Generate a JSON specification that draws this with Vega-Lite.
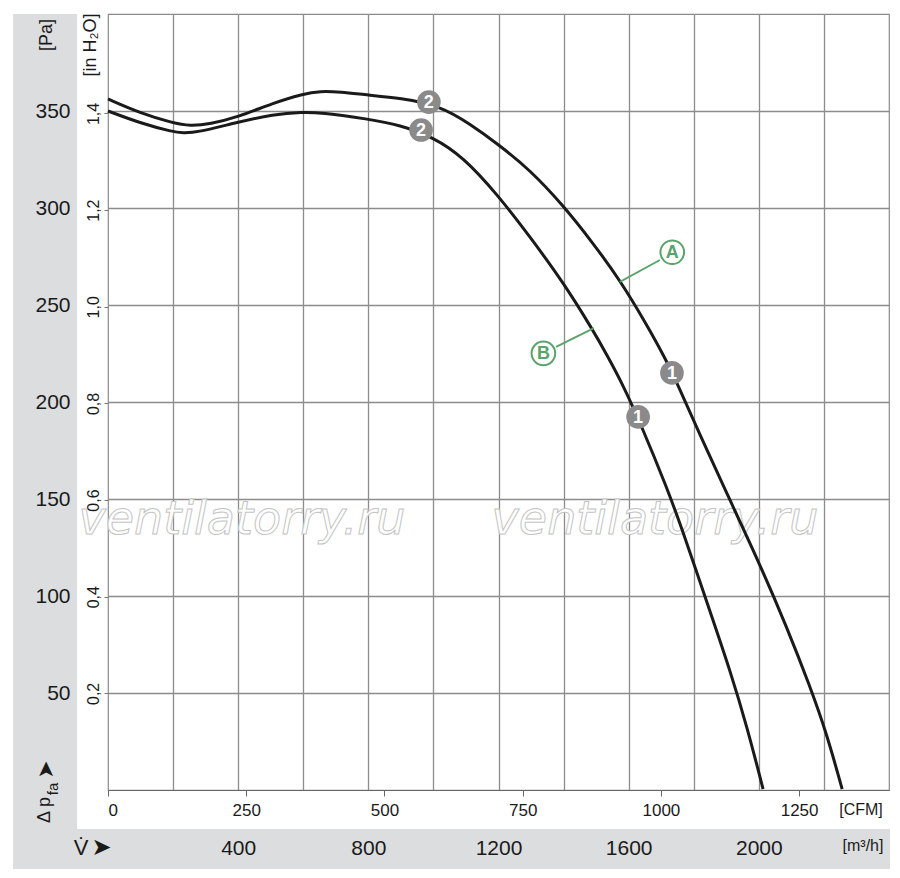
{
  "$schema": "https://vega.github.io/schema/vega-lite/v6.json",
  "width": 781,
  "height": 776,
  "autosize": "none",
  "padding": {"left": 108, "top": 14, "right": 11, "bottom": 88},
  "background": "white",
  "config": {
    "view": {"stroke": "#8a8a8a", "strokeWidth": 1.2},
    "font": "Liberation Sans, sans-serif"
  },
  "resolve": {"scale": {"x": "independent", "y": "independent"}},
  "layer": [
    {
      "data": {"values": [{"gm": 0, "gp": 0}]},
      "mark": {"type": "point", "opacity": 0},
      "encoding": {
        "x": {
          "field": "gm", "type": "quantitative",
          "scale": {"domain": [0, 2400], "nice": false, "zero": false},
          "axis": {
            "orient": "bottom", "title": null, "zindex": 0,
            "values": [200, 400, 600, 800, 1000, 1200, 1400, 1600, 1800, 2000, 2200],
            "grid": true, "gridColor": "#8c8c8c", "gridWidth": 1.3,
            "labels": false, "ticks": false, "domain": false
          }
        },
        "y": {
          "field": "gp", "type": "quantitative",
          "scale": {"domain": [0, 400], "nice": false, "zero": false},
          "axis": {
            "orient": "left", "title": null, "zindex": 0,
            "values": [50, 100, 150, 200, 250, 300, 350],
            "grid": true, "gridColor": "#8c8c8c", "gridWidth": 1.3,
            "labels": false, "ticks": false, "domain": false
          }
        }
      }
    },
    {
      "encoding": {
        "x": {
          "field": "m", "type": "quantitative",
          "scale": {"domain": [0, 2400], "nice": false, "zero": false},
          "axis": {
            "orient": "bottom", "title": null, "format": "d", "zindex": 1,
            "values": [400, 800, 1200, 1600, 2000],
            "grid": false, "ticks": false, "domain": false,
            "labelPadding": 58, "labelBaseline": "middle",
            "labelFontSize": 21, "labelColor": "#1a1a1a"
          }
        },
        "y": {
          "field": "pa", "type": "quantitative",
          "scale": {"domain": [0, 400], "nice": false, "zero": false},
          "axis": {
            "orient": "left", "title": null, "format": "d", "zindex": 1,
            "values": [50, 100, 150, 200, 250, 300, 350],
            "grid": false, "ticks": false, "domain": false,
            "labelPadding": 38,
            "labelFontSize": 21, "labelColor": "#1a1a1a"
          }
        }
      },
      "layer": [
        {
          "data": {"values": [
            {"m": -292, "m2": -95, "pa": -40.7, "pa2": 400},
            {"m": -292, "m2": 2403, "pa": -40.7, "pa2": -20.1}
          ]},
          "mark": {"type": "rect", "color": "#dcdddf"},
          "encoding": {"x2": {"field": "m2"}, "y2": {"field": "pa2"}}
        },
        {
          "data": {"values": [
            {"m": 411.8, "pa": 139.2, "txt": "ventilatorry.ru"},
            {"m": 1681, "pa": 139.2, "txt": "ventilatorry.ru"}
          ]},
          "mark": {"type": "text", "font": "DejaVu Sans", "fontStyle": "italic", "fontWeight": 200, "fontSize": 46,
                   "fill": "white", "stroke": "#c4c4c4", "strokeWidth": 1, "align": "center", "baseline": "middle"},
          "encoding": {"text": {"field": "txt"}}
        },
        {
          "data": {"values": [
            {"curve": "A", "m": 0, "pa": 356.2},
            {"curve": "A", "m": 98, "pa": 349.0},
            {"curve": "A", "m": 200, "pa": 343.8},
            {"curve": "A", "m": 252, "pa": 342.3},
            {"curve": "A", "m": 313, "pa": 343.3},
            {"curve": "A", "m": 400, "pa": 346.9},
            {"curve": "A", "m": 507, "pa": 354.1},
            {"curve": "A", "m": 599, "pa": 358.8},
            {"curve": "A", "m": 652, "pa": 360.3},
            {"curve": "A", "m": 713, "pa": 359.8},
            {"curve": "A", "m": 799, "pa": 358.2},
            {"curve": "A", "m": 897, "pa": 356.7},
            {"curve": "A", "m": 1022, "pa": 352.6},
            {"curve": "A", "m": 1112, "pa": 343.3},
            {"curve": "A", "m": 1198, "pa": 333.0},
            {"curve": "A", "m": 1297, "pa": 319.6},
            {"curve": "A", "m": 1398, "pa": 301.5},
            {"curve": "A", "m": 1490, "pa": 282.0},
            {"curve": "A", "m": 1573, "pa": 262.9},
            {"curve": "A", "m": 1656, "pa": 239.7},
            {"curve": "A", "m": 1712, "pa": 222.6},
            {"curve": "A", "m": 1749, "pa": 209.7},
            {"curve": "A", "m": 1819, "pa": 183.0},
            {"curve": "A", "m": 1911, "pa": 149.5},
            {"curve": "A", "m": 2000, "pa": 117.5},
            {"curve": "A", "m": 2086, "pa": 84.0},
            {"curve": "A", "m": 2157, "pa": 53.5},
            {"curve": "A", "m": 2209, "pa": 28.8},
            {"curve": "A", "m": 2256, "pa": 0.5},
            {"curve": "B", "m": 0, "pa": 350.0},
            {"curve": "B", "m": 98, "pa": 343.8},
            {"curve": "B", "m": 200, "pa": 339.2},
            {"curve": "B", "m": 230, "pa": 338.7},
            {"curve": "B", "m": 273, "pa": 338.9},
            {"curve": "B", "m": 400, "pa": 344.3},
            {"curve": "B", "m": 507, "pa": 348.2},
            {"curve": "B", "m": 599, "pa": 349.5},
            {"curve": "B", "m": 652, "pa": 349.2},
            {"curve": "B", "m": 799, "pa": 345.9},
            {"curve": "B", "m": 897, "pa": 342.8},
            {"curve": "B", "m": 999, "pa": 336.6},
            {"curve": "B", "m": 1091, "pa": 326.4},
            {"curve": "B", "m": 1198, "pa": 306.7},
            {"curve": "B", "m": 1297, "pa": 285.1},
            {"curve": "B", "m": 1398, "pa": 261.9},
            {"curve": "B", "m": 1490, "pa": 237.1},
            {"curve": "B", "m": 1533, "pa": 224.3},
            {"curve": "B", "m": 1583, "pa": 208.7},
            {"curve": "B", "m": 1641, "pa": 187.1},
            {"curve": "B", "m": 1718, "pa": 155.6},
            {"curve": "B", "m": 1764, "pa": 134.5},
            {"curve": "B", "m": 1810, "pa": 111.9},
            {"curve": "B", "m": 1859, "pa": 87.6},
            {"curve": "B", "m": 1911, "pa": 61.9},
            {"curve": "B", "m": 1964, "pa": 32.5},
            {"curve": "B", "m": 2013, "pa": 0.5}
          ]},
          "mark": {"type": "line", "color": "#1a1a1a", "strokeWidth": 3, "interpolate": "basis"},
          "encoding": {"detail": {"field": "curve"}}
        },
        {
          "data": {"values": [
            {"m": 1696, "pa": 273.2, "m2": 1573, "pa2": 261.9},
            {"m": 1377, "pa": 228.4, "m2": 1493, "pa2": 238.1}
          ]},
          "mark": {"type": "rule", "color": "#5aa36a", "strokeWidth": 1.8},
          "encoding": {"x2": {"field": "m2"}, "y2": {"field": "pa2"}}
        },
        {
          "data": {"values": [
            {"m": 986, "pa": 354.6, "txt": "2"},
            {"m": 962, "pa": 340.2, "txt": "2"},
            {"m": 1733, "pa": 215.0, "txt": "1"},
            {"m": 1629, "pa": 192.3, "txt": "1"}
          ]},
          "layer": [
            {"mark": {"type": "point", "shape": "circle", "filled": true, "size": 560, "color": "#8a8a8a", "opacity": 1}},
            {"mark": {"type": "text", "color": "white", "fontWeight": "bold", "fontSize": 18, "align": "center", "baseline": "middle", "dy": 1},
             "encoding": {"text": {"field": "txt"}}}
          ]
        },
        {
          "data": {"values": [
            {"m": 1734, "pa": 277.2, "txt": "A"},
            {"m": 1338, "pa": 225.1, "txt": "B"}
          ]},
          "layer": [
            {"mark": {"type": "point", "shape": "circle", "filled": true, "size": 560, "fill": "white", "stroke": "#5aa36a", "strokeWidth": 2, "opacity": 1}},
            {"mark": {"type": "text", "color": "#5aa36a", "fontWeight": "bold", "fontSize": 18, "align": "center", "baseline": "middle", "dy": 1},
             "encoding": {"text": {"field": "txt"}}}
          ]
        },
        {
          "data": {"values": [
            {"m": -187.5, "pa": 389.2, "txt": "[Pa]"},
            {"m": -52.2, "pa": 384.0, "txt": "[in H₂O]"},
            {"m": -193.6, "pa": -10.3, "txt": "Δ p"}
          ]},
          "mark": {"type": "text", "angle": 270, "align": "center", "baseline": "middle", "fontSize": 18, "color": "#1a1a1a"},
          "encoding": {"text": {"field": "txt"}}
        },
        {
          "data": {"values": [
            {"m": -168, "pa": 0.5, "txt": "fa"}
          ]},
          "mark": {"type": "text", "angle": 270, "align": "center", "baseline": "middle", "fontSize": 15, "color": "#1a1a1a"},
          "encoding": {"text": {"field": "txt"}}
        },
        {
          "data": {"values": [
            {"m": -190.5, "pa": 10.5, "txt": "➤"}
          ]},
          "mark": {"type": "text", "angle": 270, "align": "center", "baseline": "middle", "fontSize": 22, "font": "DejaVu Sans", "color": "#1a1a1a"},
          "encoding": {"text": {"field": "txt"}}
        },
        {
          "data": {"values": [
            {"m": -83, "pa": -29.9, "txt": "V̇"}
          ]},
          "mark": {"type": "text", "align": "center", "baseline": "middle", "fontSize": 22, "color": "#1a1a1a"},
          "encoding": {"text": {"field": "txt"}}
        },
        {
          "data": {"values": [
            {"m": -20, "pa": -29.9, "txt": "➤"}
          ]},
          "mark": {"type": "text", "align": "center", "baseline": "middle", "fontSize": 24, "font": "DejaVu Sans", "color": "#1a1a1a"},
          "encoding": {"text": {"field": "txt"}}
        },
        {
          "data": {"values": [
            {"m": 2314, "pa": -10.3, "txt": "[CFM]"},
            {"m": 2320, "pa": -28.9, "txt": "[m³/h]"}
          ]},
          "mark": {"type": "text", "align": "center", "baseline": "middle", "fontSize": 16, "color": "#1a1a1a"},
          "encoding": {"text": {"field": "txt"}}
        }
      ]
    },
    {
      "data": {"values": [{"cfm": 0}]},
      "mark": {"type": "rule", "opacity": 0},
      "encoding": {
        "x": {
          "field": "cfm", "type": "quantitative",
          "scale": {"domain": [0, 1412.6], "nice": false, "zero": false},
          "axis": {
            "orient": "bottom", "title": null, "format": "d", "zindex": 1,
            "values": [0, 250, 500, 750, 1000, 1250],
            "grid": false, "domain": true, "domainColor": "#666666", "domainWidth": 1.2,
            "ticks": true, "tickSize": 6, "tickColor": "#666666", "tickWidth": 1,
            "labelPadding": 6,
            "labelFontSize": 17, "labelColor": "#1a1a1a"
          }
        }
      }
    },
    {
      "data": {"values": [{"inh": 0}]},
      "mark": {"type": "rule", "opacity": 0},
      "encoding": {
        "y": {
          "field": "inh", "type": "quantitative",
          "scale": {"domain": [0, 1.6059], "nice": false, "zero": false},
          "axis": {
            "orient": "left", "title": null, "zindex": 1,
            "values": [0.2, 0.4, 0.6, 0.8, 1.0, 1.2, 1.4],
            "labelExpr": "replace(format(datum.value, '.1f'), '.', ',')",
            "grid": false, "domain": false,
            "ticks": true, "tickSize": 4, "tickColor": "#777777",
            "labelAngle": 270, "labelAlign": "center", "labelBaseline": "bottom",
            "labelPadding": 3,
            "labelFontSize": 16, "labelColor": "#1a1a1a"
          }
        }
      }
    }
  ]
}
